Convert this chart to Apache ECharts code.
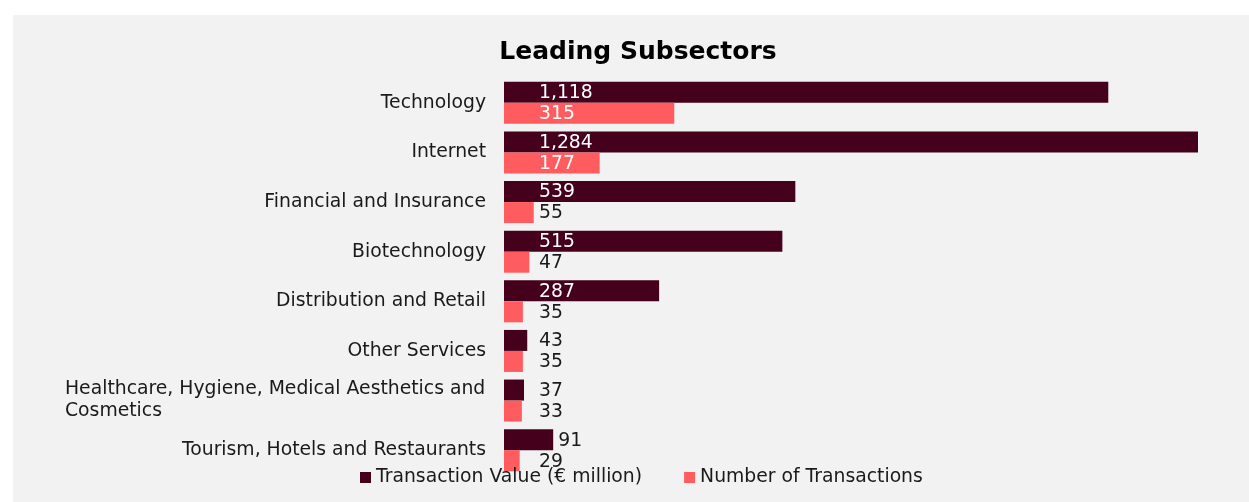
<!DOCTYPE html>
<html>
<head>
<meta charset="utf-8">
<script src="https://cdn.jsdelivr.net/npm/echarts@6/dist/echarts.min.js"></script>
<style>
html,body{margin:0;padding:0;background:#ffffff;}
#chart{width:1249px;height:502px;}
</style>
</head>
<body>
<div id="chart"></div>
<script>
const categories = [
  "Technology",
  "Internet",
  "Financial and Insurance",
  "Biotechnology",
  "Distribution and Retail",
  "Other Services",
  "Healthcare, Hygiene, Medical Aesthetics and Cosmetics",
  "Tourism, Hotels and Restaurants"
];
const transactionValue = [1118, 1284, 539, 515, 287, 43, 37, 91];
const transactionCount = [315, 177, 55, 47, 35, 35, 33, 29];
const seriesNames = ["Transaction Value (€ million)", "Number of Transactions"];

const FONT = "DejaVu Sans";
const FS = 18.8;
const gridLeft = 504, gridRight = 51;
const plotWidth = 1249 - gridLeft - gridRight;
const axisMax = Math.max(...transactionValue, ...transactionCount);
const pxPerUnit = plotWidth / axisMax;
const labelOffset = 35;

function fmt(v){ return v.toLocaleString('en-US'); }

function buildData(values){
  return values.map(v => {
    const w = v * pxPerUnit;
    const labelW = fmt(v).length * 11.8;
    let label;
    if (w > labelOffset + labelW + 4) {
      label = {position: [labelOffset, '50%'], color: '#ffffff', verticalAlign: 'middle', align: 'left'};
    } else if (w + 5 > labelOffset) {
      label = {position: 'right', distance: 5, color: '#1a1a1a'};
    } else {
      label = {position: [labelOffset, '50%'], color: '#1a1a1a', verticalAlign: 'middle', align: 'left'};
    }
    return {value: v, label: label};
  });
}

const chart = echarts.init(document.getElementById('chart'), null, {renderer: 'canvas'});
chart.setOption({
  animation: false,
  textStyle: {fontFamily: FONT},
  graphic: [{
    type: 'rect', z: -10, silent: true,
    shape: {x: 13, y: 15, width: 1236, height: 487},
    style: {fill: '#f2f2f2'}
  }],
  title: {
    text: 'Leading Subsectors',
    left: 633, top: 35, textAlign: 'center',
    textStyle: {fontFamily: FONT, fontSize: 25, fontWeight: 'bold', color: '#000000'}
  },
  legend: {
    data: seriesNames,
    left: 355, top: 463,
    icon: 'rect', itemWidth: 11, itemHeight: 11, itemGap: 42,
    textStyle: {fontFamily: FONT, fontSize: FS, color: '#1a1a1a'}
  },
  grid: {left: gridLeft, right: gridRight, top: 78, bottom: 27, containLabel: false},
  xAxis: {
    type: 'value', min: 0, max: axisMax, show: false,
    splitLine: {show: false}
  },
  yAxis: {
    type: 'category', data: categories, inverse: true,
    axisLine: {show: false}, axisTick: {show: false},
    axisLabel: {
      margin: 18, fontFamily: FONT, fontSize: FS, color: '#1a1a1a',
      formatter: function(v){
        if (v.length > 40) {
          const idx = v.lastIndexOf(' ', 44);
          return '{h|' + v.slice(0, idx) + '}\n{h|' + v.slice(idx + 1) + '}';
        }
        return v;
      },
      rich: {
        h: {fontFamily: FONT, fontSize: FS, color: '#1a1a1a', width: 421, align: 'left', lineHeight: 22}
      }
    }
  },
  series: [
    {
      name: seriesNames[0], type: 'bar',
      data: buildData(transactionValue),
      barGap: '0%', barCategoryGap: '15.3%',
      itemStyle: {color: '#45001c'},
      label: {show: true, fontFamily: FONT, fontSize: FS, offset: [0, 1], formatter: p => fmt(p.value)}
    },
    {
      name: seriesNames[1], type: 'bar',
      data: buildData(transactionCount),
      barGap: '0%', barCategoryGap: '15.3%',
      itemStyle: {color: '#ff5c60'},
      label: {show: true, fontFamily: FONT, fontSize: FS, offset: [0, 1], formatter: p => fmt(p.value)}
    }
  ]
});
</script>
</body>
</html>
